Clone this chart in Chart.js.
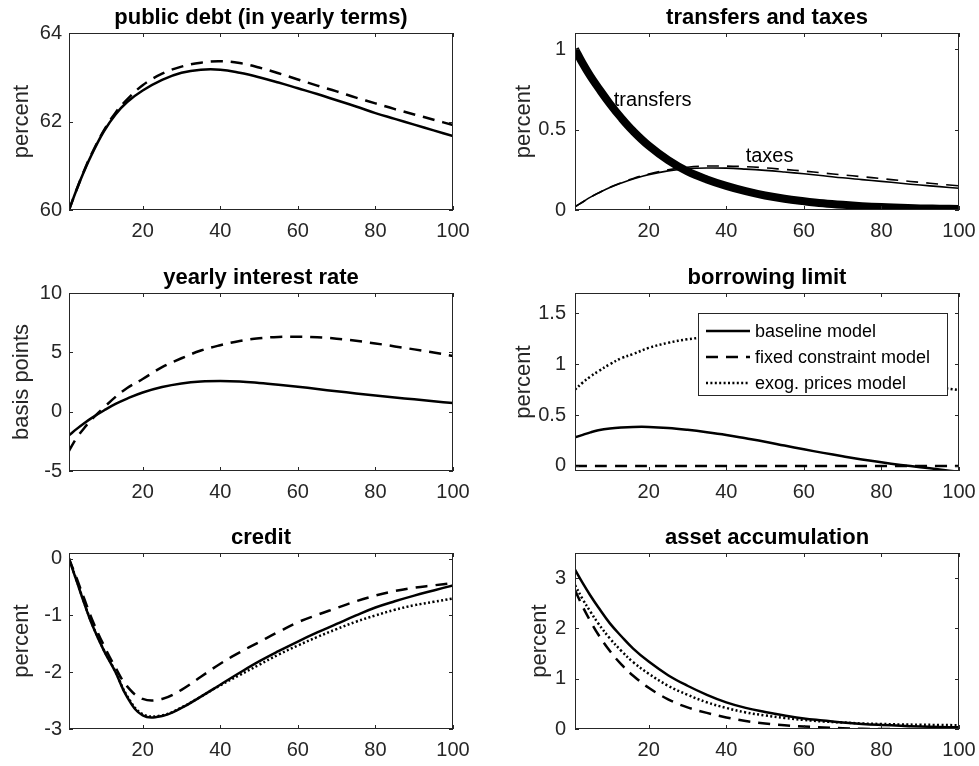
<!DOCTYPE html>
<html>
<head>
<meta charset="utf-8">
<script src="https://cdn.jsdelivr.net/npm/chart.js@4.4.0/dist/chart.umd.min.js"></script>
<style>
  body { margin: 0; background: #fff; width: 979px; height: 766px; position: relative; overflow: hidden; }
</style>
</head>
<body>
<script>
// horizon (periods) shared by every panel
const periods = [1, 3, 5, 7, 10, 13, 16, 20, 25, 30, 35, 40, 45, 50, 55, 60, 65, 70, 75, 80, 85, 90, 95, 100];
const xTicks = [20, 40, 60, 80, 100];

// public debt (in yearly terms)
const debtBaseline = [60.00, 60.47, 60.90, 61.28, 61.78, 62.16, 62.44, 62.70, 62.94, 63.10, 63.17, 63.17, 63.10, 63.00, 62.88, 62.75, 62.62, 62.48, 62.34, 62.19, 62.06, 61.93, 61.80, 61.67];
const debtFixed    = [60.00, 60.47, 60.91, 61.30, 61.80, 62.20, 62.50, 62.82, 63.08, 63.24, 63.33, 63.36, 63.32, 63.22, 63.09, 62.95, 62.81, 62.68, 62.54, 62.41, 62.28, 62.16, 62.04, 61.92];

// transfers and taxes
const transfers   = [1.00, 0.91, 0.83, 0.76, 0.66, 0.57, 0.49, 0.40, 0.31, 0.24, 0.19, 0.15, 0.117, 0.09, 0.07, 0.055, 0.042, 0.032, 0.024, 0.018, 0.014, 0.010, 0.008, 0.006];
const taxesBase   = [0.02, 0.05, 0.08, 0.105, 0.14, 0.168, 0.193, 0.22, 0.243, 0.256, 0.261, 0.26, 0.254, 0.246, 0.236, 0.225, 0.213, 0.20, 0.189, 0.178, 0.166, 0.155, 0.145, 0.135];
const taxesFixed  = [0.02, 0.05, 0.08, 0.106, 0.141, 0.17, 0.196, 0.224, 0.25, 0.266, 0.273, 0.273, 0.269, 0.262, 0.252, 0.242, 0.23, 0.218, 0.207, 0.195, 0.183, 0.172, 0.161, 0.15];

// yearly interest rate (basis points)
const rateBaseline = [-2.0, -1.45, -0.95, -0.5, 0.1, 0.65, 1.1, 1.62, 2.08, 2.38, 2.54, 2.58, 2.54, 2.42, 2.27, 2.10, 1.91, 1.72, 1.54, 1.37, 1.20, 1.04, 0.88, 0.72];
const rateFixed    = [-3.3, -2.2, -1.35, -0.6, 0.35, 1.25, 2.0, 2.75, 3.75, 4.5, 5.15, 5.6, 5.95, 6.18, 6.3, 6.32, 6.27, 6.15, 5.97, 5.75, 5.5, 5.25, 4.98, 4.7];

// borrowing limit
const limitBaseline = [0.28, 0.305, 0.33, 0.35, 0.368, 0.378, 0.383, 0.383, 0.373, 0.355, 0.332, 0.305, 0.272, 0.238, 0.20, 0.163, 0.128, 0.095, 0.063, 0.035, 0.01, -0.013, -0.035, -0.058];
const limitFixed    = [0, 0, 0, 0, 0, 0, 0, 0, 0, 0, 0, 0, 0, 0, 0, 0, 0, 0, 0, 0, 0, 0, 0, 0];
const limitExog     = [0.75, 0.82, 0.88, 0.93, 1.0, 1.06, 1.1, 1.16, 1.21, 1.245, 1.265, 1.27, 1.265, 1.25, 1.22, 1.18, 1.13, 1.06, 0.99, 0.92, 0.85, 0.80, 0.77, 0.745];

// credit
const creditBaseline = [0, -0.4, -0.8, -1.17, -1.62, -2.0, -2.44, -2.76, -2.77, -2.63, -2.43, -2.22, -2.01, -1.81, -1.63, -1.46, -1.30, -1.15, -1.0, -0.86, -0.75, -0.65, -0.56, -0.47];
const creditFixed    = [0, -0.35, -0.72, -1.08, -1.53, -1.92, -2.25, -2.47, -2.47, -2.31, -2.08, -1.85, -1.65, -1.47, -1.29, -1.12, -0.99, -0.87, -0.75, -0.65, -0.57, -0.51, -0.47, -0.43];
const creditExog     = [0, -0.39, -0.79, -1.16, -1.61, -1.99, -2.42, -2.74, -2.76, -2.62, -2.43, -2.23, -2.05, -1.87, -1.69, -1.53, -1.38, -1.24, -1.11, -1.0, -0.9, -0.82, -0.76, -0.7];

// asset accumulation
const assetBaseline = [3.17, 2.9, 2.65, 2.42, 2.1, 1.84, 1.6, 1.34, 1.07, 0.86, 0.68, 0.53, 0.42, 0.34, 0.27, 0.21, 0.17, 0.13, 0.10, 0.08, 0.065, 0.05, 0.04, 0.035];
const assetFixed    = [2.76, 2.43, 2.14, 1.88, 1.55, 1.28, 1.06, 0.82, 0.59, 0.43, 0.32, 0.23, 0.16, 0.11, 0.075, 0.05, 0.03, 0.015, 0.005, 0.0, -0.004, -0.005, -0.003, 0.0];
const assetExog     = [2.86, 2.58, 2.33, 2.1, 1.8, 1.55, 1.33, 1.1, 0.86, 0.68, 0.53, 0.42, 0.33, 0.27, 0.22, 0.18, 0.15, 0.13, 0.11, 0.10, 0.09, 0.085, 0.08, 0.075];

const legendNames = ["baseline model", "fixed constraint model", "exog. prices model"];

const FONT = "'Liberation Sans', Arial, Helvetica, sans-serif";
const AXIS_COLOR = "#262626";

// line styles (MATLAB look)
const SOLID = { borderDash: [], borderWidth: 2.5 };
const DASHED = { borderDash: [12, 8], borderWidth: 2.5 };
const DOTTED = { borderDash: [2, 2.4], borderWidth: 2.5 };

function series(values, style, label) {
  return Object.assign({
    label: label || "",
    data: periods.map((p, i) => ({ x: p, y: values[i] })),
    borderColor: "#000",
    pointRadius: 0,
    fill: false,
    tension: 0.4,
    borderCapStyle: "butt",
    borderJoinStyle: "round"
  }, style);
}

const panels = [
  { title: "public debt (in yearly terms)", ylabel: "percent",
    cell: [0, 0, 490, 250], box: [69, 33, 453, 210], ylabelOff: 47, tickPad: 7,
    yMin: 60, yMax: 64, yTicks: [60, 62, 64],
    data: [series(debtBaseline, SOLID), series(debtFixed, DASHED)] },
  { title: "transfers and taxes", ylabel: "percent",
    cell: [490, 0, 489, 250], box: [575, 33, 959, 210], ylabelOff: 51, tickPad: 9,
    yMin: 0, yMax: 1.1, yTicks: [0, 0.5, 1],
    data: [series(taxesBase, { borderDash: [], borderWidth: 1.6 }),
           series(taxesFixed, { borderDash: [12, 8], borderWidth: 1.6 }),
           series(transfers, { borderDash: [], borderWidth: 8 })],
    notes: [{ text: "transfers", x: 11, y: 0.683 }, { text: "taxes", x: 45, y: 0.33 }] },
  { title: "yearly interest rate", ylabel: "basis points",
    cell: [0, 250, 490, 260], box: [69, 293, 453, 471], ylabelOff: 47, tickPad: 7,
    yMin: -5, yMax: 10, yTicks: [-5, 0, 5, 10],
    data: [series(rateBaseline, SOLID), series(rateFixed, DASHED)] },
  { title: "borrowing limit", ylabel: "percent",
    cell: [490, 250, 489, 260], box: [575, 293, 959, 471], ylabelOff: 51, tickPad: 9,
    yMin: -0.05, yMax: 1.7, yTicks: [0, 0.5, 1, 1.5],
    data: [series(limitBaseline, SOLID, legendNames[0]),
           series(limitFixed, DASHED, legendNames[1]),
           series(limitExog, DOTTED, legendNames[2])],
    legend: true },
  { title: "credit", ylabel: "percent",
    cell: [0, 510, 490, 256], box: [69, 553, 453, 729], ylabelOff: 47, tickPad: 7,
    yMin: -3, yMax: 0.1, yTicks: [-3, -2, -1, 0],
    data: [series(creditBaseline, SOLID), series(creditFixed, DASHED), series(creditExog, DOTTED)] },
  { title: "asset accumulation", ylabel: "percent",
    cell: [490, 510, 489, 256], box: [575, 553, 959, 729], ylabelOff: 35, tickPad: 9,
    yMin: 0, yMax: 3.5, yTicks: [0, 1, 2, 3],
    data: [series(assetBaseline, SOLID), series(assetFixed, DASHED), series(assetExog, DOTTED)] }
];

// draws the MATLAB style box, inward ticks, title, y label, notes and legend
function matlabPlugin(p) {
  return {
    id: "matlab",
    afterDatasetsDraw(chart) {
      const ctx = chart.ctx;
      const a = chart.chartArea;
      const xs = chart.scales.x, ys = chart.scales.y;
      ctx.save();

      // text notes inside the plot
      (p.notes || []).forEach(n => {
        ctx.font = "20px " + FONT;
        ctx.fillStyle = "#000";
        ctx.textAlign = "left";
        ctx.textBaseline = "middle";
        ctx.fillText(n.text, xs.getPixelForValue(n.x), ys.getPixelForValue(n.y));
      });

      // legend
      if (p.legend) {
        const w = 249, h = 82;
        const lx = a.right - 12 - w, ly = a.top + 20;
        ctx.fillStyle = "#fff";
        ctx.fillRect(lx, ly, w, h);
        ctx.strokeStyle = AXIS_COLOR;
        ctx.lineWidth = 1;
        ctx.setLineDash([]);
        ctx.strokeRect(lx + 0.5, ly + 0.5, w, h);
        chart.data.datasets.forEach((ds, i) => {
          const yy = ly + 18 + i * 26;
          ctx.strokeStyle = "#000";
          ctx.lineWidth = ds.borderWidth;
          ctx.setLineDash(ds.borderDash);
          ctx.lineCap = "butt";
          ctx.beginPath();
          ctx.moveTo(lx + 8, yy);
          ctx.lineTo(lx + 52, yy);
          ctx.stroke();
          ctx.setLineDash([]);
          ctx.font = "18px " + FONT;
          ctx.fillStyle = "#000";
          ctx.textAlign = "left";
          ctx.textBaseline = "middle";
          ctx.fillText(ds.label, lx + 57, yy + 1);
        });
      }

      // box
      ctx.setLineDash([]);
      ctx.strokeStyle = AXIS_COLOR;
      ctx.lineWidth = 1;
      ctx.strokeRect(a.left + 0.5, a.top + 0.5, a.right - a.left - 1, a.bottom - a.top - 1);

      // inward ticks on all four sides
      const tl = 4;
      ctx.beginPath();
      xTicks.forEach(v => {
        const px = Math.round(xs.getPixelForValue(v)) + 0.5;
        ctx.moveTo(px, a.bottom); ctx.lineTo(px, a.bottom - tl);
        ctx.moveTo(px, a.top); ctx.lineTo(px, a.top + tl);
      });
      p.yTicks.forEach(v => {
        const py = Math.round(ys.getPixelForValue(v)) + 0.5;
        ctx.moveTo(a.left, py); ctx.lineTo(a.left + tl, py);
        ctx.moveTo(a.right, py); ctx.lineTo(a.right - tl, py);
      });
      ctx.stroke();

      // title
      ctx.font = "bold 22px " + FONT;
      ctx.fillStyle = "#000";
      ctx.textAlign = "center";
      ctx.textBaseline = "alphabetic";
      ctx.fillText(p.title, (a.left + a.right) / 2, a.top - 9);

      // y label
      ctx.translate(a.left - p.ylabelOff, (a.top + a.bottom) / 2);
      ctx.rotate(-Math.PI / 2);
      ctx.font = "22px " + FONT;
      ctx.fillStyle = AXIS_COLOR;
      ctx.textAlign = "center";
      ctx.textBaseline = "middle";
      ctx.fillText(p.ylabel, 0, 0);
      ctx.restore();
    }
  };
}

panels.forEach(p => {
  const [cx, cy, cw, ch] = p.cell;
  const [L, T, R, B] = p.box;
  const cv = document.createElement("canvas");
  cv.width = cw;
  cv.height = ch;
  cv.style.cssText = "position:absolute;left:" + cx + "px;top:" + cy + "px;";
  document.body.appendChild(cv);

  new Chart(cv, {
    type: "line",
    data: { datasets: p.data },
    options: {
      responsive: false,
      animation: false,
      devicePixelRatio: 1,
      layout: { padding: { left: 0, top: T - cy, right: cx + cw - R, bottom: 0 } },
      plugins: { legend: { display: false }, tooltip: { enabled: false }, title: { display: false } },
      scales: {
        x: {
          type: "linear", min: 1, max: 100,
          afterBuildTicks: s => { s.ticks = xTicks.map(v => ({ value: v })); },
          // fixed height, and no extra side padding for the "100" label
          afterFit: s => { s.height = cy + ch - B; s.paddingLeft = 0; s.paddingRight = 0; },
          grid: { display: false, drawTicks: false },
          border: { display: false },
          ticks: { color: AXIS_COLOR, font: { family: FONT, size: 20 }, padding: 9, maxRotation: 0, callback: v => String(v) }
        },
        y: {
          type: "linear", min: p.yMin, max: p.yMax,
          afterBuildTicks: s => { s.ticks = p.yTicks.map(v => ({ value: v })); },
          afterFit: s => { s.width = L - cx; s.paddingTop = 0; s.paddingBottom = 0; },
          grid: { display: false, drawTicks: false },
          border: { display: false },
          ticks: { color: AXIS_COLOR, font: { family: FONT, size: 20 }, padding: p.tickPad, callback: v => String(v) }
        }
      }
    },
    plugins: [matlabPlugin(p)]
  });
});
</script>
</body>
</html>
